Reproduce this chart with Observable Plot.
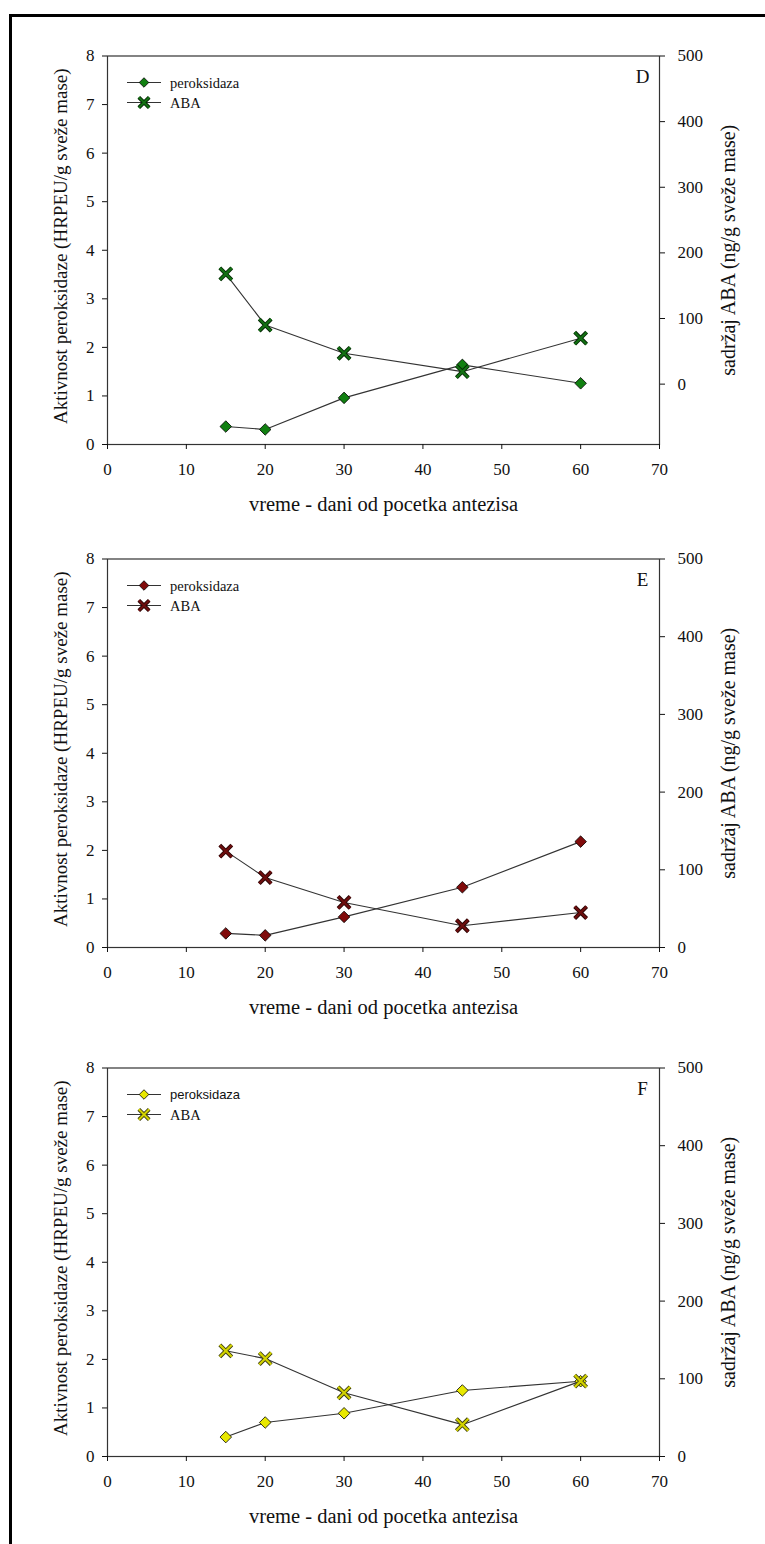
<!DOCTYPE html>
<html><head><meta charset="utf-8">
<script src="https://cdn.jsdelivr.net/npm/d3@7"></script>
<script src="https://cdn.jsdelivr.net/npm/@observablehq/plot@0.6"></script>
<style>
html,body{margin:0;padding:0;background:#fff;width:765px;height:1544px;overflow:hidden;}
#page{position:relative;width:765px;height:1544px;}
#border{position:absolute;left:9px;top:14px;width:800px;height:1600px;border-left:3px solid #000;border-top:3px solid #000;}
.panel{position:absolute;left:0;}
.panel text{font-family:"Liberation Serif","Times New Roman",serif;}
.panel text.sans{font-family:"Liberation Sans",Arial,sans-serif;}
</style></head><body><div id="page"><div id="border"></div></div>
<script>
// ---- data ----
const days = [15, 20, 30, 45, 60];
const peroxD = [0.37, 0.31, 0.96, 1.64, 1.26];
const abaD   = [168, 90, 47, 19, 70];
const peroxE = [0.29, 0.25, 0.63, 1.24, 2.18];
const abaE   = [124, 90, 58, 28, 45];
const peroxF = [0.40, 0.70, 0.89, 1.36, 1.55];
const abaF   = [136, 126, 82, 41, 97];
const xTicks = [0, 10, 20, 30, 40, 50, 60, 70];
const leftTicks = [0, 1, 2, 3, 4, 5, 6, 7, 8];
const rightTicks = [0, 100, 200, 300, 400, 500];
const legendLabels = ["peroksidaza", "ABA"];
const xLabel = "vreme - dani od pocetka antezisa";
const yLabel = "Aktivnost peroksidaze (HRPEU/g sveže mase)";
const y2Label = "sadržaj ABA (ng/g sveže mase)";

// ---- panel settings ----
const panels = [
  {letter: "D", perox: peroxD, aba: abaD, abaMin: -92, top: 0,
   dFill: "#118011", xIn: "#137013", xOut: "#052805", legSans: false},
  {letter: "E", perox: peroxE, aba: abaE, abaMin: 0, top: 502.5,
   dFill: "#800b0b", xIn: "#6e0e0e", xOut: "#2a0404", legSans: false},
  {letter: "F", perox: peroxF, aba: abaF, abaMin: 0, top: 1011.5,
   dFill: "#e8e800", xIn: "#d2d200", xOut: "#3a3a10", legSans: true}
];

const H = 520, MT = 55.5, FRAMEH = 388.5;

function legendMark(p) {
  return (index, scales, values, dims) => {
    const g = d3.create("svg:g");
    const x0 = dims.marginLeft, y0 = dims.marginTop;
    legendLabels.forEach((lab, i) => {
      const y = y0 + 27 + i * 20;
      g.append("line").attr("x1", x0 + 20).attr("x2", x0 + 54).attr("y1", y).attr("y2", y)
        .attr("stroke", "#333").attr("stroke-width", 1);
      if (i === 0) {
        g.append("path").attr("transform", `translate(${x0 + 37},${y})`)
          .attr("d", d3.symbol(d3.symbolDiamond2, Math.PI * 4.3 * 4.3)())
          .attr("fill", p.dFill).attr("stroke", "#000").attr("stroke-width", 0.8);
      } else {
        const d = d3.symbol(d3.symbolTimes, Math.PI * 4.8 * 4.8)();
        g.append("path").attr("transform", `translate(${x0 + 37},${y})`).attr("d", d)
          .attr("fill", "none").attr("stroke", p.xOut).attr("stroke-width", 3.8);
        g.append("path").attr("transform", `translate(${x0 + 37},${y})`).attr("d", d)
          .attr("fill", "none").attr("stroke", p.xIn).attr("stroke-width", 2);
      }
      const sans = i === 0 && p.legSans;
      g.append("text").attr("x", x0 + 63).attr("y", y).attr("dy", "0.35em")
        .attr("text-anchor", "start")
        .attr("class", sans ? "sans" : null)
        .style("font-size", (sans ? 13 : 14.5) + "px")
        .attr("fill", "#111").text(lab);
    });
    return g.node();
  };
}

function makePanel(p) {
  const k = v => (v - p.abaMin) / (500 - p.abaMin) * 8;
  const inv = y => Math.round(y * (500 - p.abaMin) / 8 + p.abaMin);
  const pero = days.map((d, i) => ({day: d, v: p.perox[i]}));
  const aba = days.map((d, i) => ({day: d, v: k(p.aba[i])}));
  const ax = {tickSize: 5, label: null, fontSize: 17};
  const chart = Plot.plot({
    width: 765, height: H,
    marginLeft: 107, marginRight: 106, marginTop: MT, marginBottom: H - MT - FRAMEH,
    x: {domain: [0, 70]},
    y: {domain: [0, 8]},
    style: {background: "transparent", fontSize: "17px", color: "#111", overflow: "visible"},
    marks: [
      Plot.frame({stroke: "#333", strokeWidth: 1.2}),
      Plot.axisX({...ax, ticks: xTicks, tickPadding: 13}),
      Plot.axisY({...ax, ticks: leftTicks, tickPadding: 8}),
      Plot.axisY({...ax, anchor: "right", ticks: rightTicks.map(k), tickFormat: inv, tickPadding: 13}),
      Plot.line(pero, {x: "day", y: "v", stroke: "#333", strokeWidth: 1.1}),
      Plot.line(aba, {x: "day", y: "v", stroke: "#333", strokeWidth: 1.1}),
      Plot.dot(pero, {x: "day", y: "v", symbol: "diamond2", r: 5.2, fill: p.dFill, stroke: "#000", strokeWidth: 0.8}),
      Plot.dot(aba, {x: "day", y: "v", symbol: "times", r: 5.5, stroke: p.xOut, strokeWidth: 4}),
      Plot.dot(aba, {x: "day", y: "v", symbol: "times", r: 5.5, stroke: p.xIn, strokeWidth: 2.2}),
      Plot.text([yLabel], {frameAnchor: "left", dx: -47, dy: -4, rotate: -90, textAnchor: "middle", lineAnchor: "middle", fontSize: 19, fill: "#111"}),
      Plot.text([y2Label], {frameAnchor: "right", dx: 69, rotate: -90, textAnchor: "middle", lineAnchor: "middle", fontSize: 20, fill: "#111"}),
      Plot.text([xLabel], {frameAnchor: "bottom", dy: 60, textAnchor: "middle", lineAnchor: "middle", fontSize: 20.5, fill: "#111"}),
      Plot.text([p.letter], {frameAnchor: "top-right", dx: -17, dy: 21, textAnchor: "middle", lineAnchor: "middle", fontSize: 19, fill: "#111"}),
      legendMark(p)
    ]
  });
  chart.classList.add("panel");
  chart.style.top = p.top + "px";
  document.getElementById("page").appendChild(chart);
}
panels.forEach(makePanel);
</script>
</body></html>
